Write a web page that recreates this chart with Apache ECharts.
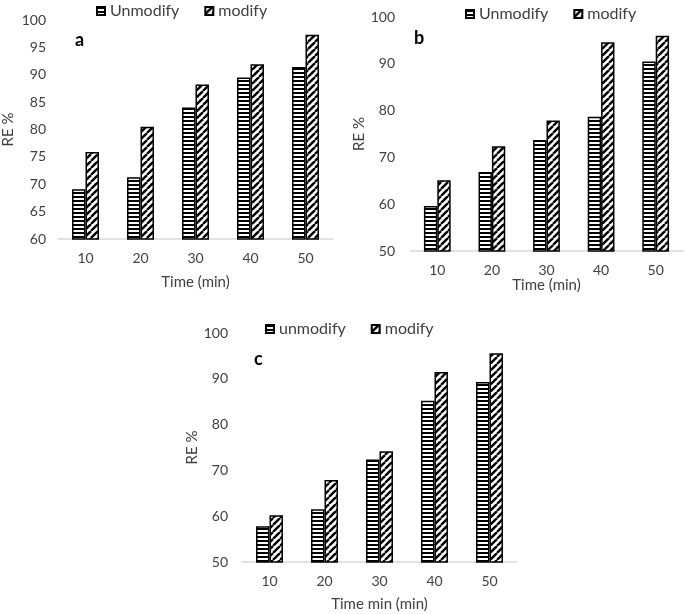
<!DOCTYPE html>
<html>
<head>
<meta charset="utf-8">
<script src="https://cdn.jsdelivr.net/npm/echarts@6/dist/echarts.min.js"></script>
<style>
  html, body { margin: 0; padding: 0; background: #fff; }
  #chart { width: 685px; height: 614px; }
</style>
</head>
<body>
<div id="chart"></div>
<script>
  // values
  var timeLabels = ['10', '20', '30', '40', '50'];
  var aUnmodify = [69.1, 71.3, 84.0, 89.5, 91.4];
  var aModify = [75.9, 80.5, 88.2, 91.9, 97.3];
  var bUnmodify = [59.6, 66.9, 73.7, 78.7, 90.5];
  var bModify = [65.1, 72.4, 77.9, 94.6, 96.0];
  var cUnmodify = [57.8, 61.5, 72.4, 85.2, 89.3];
  var cModify = [60.2, 67.9, 74.2, 91.5, 95.6];

  var FONT = 'Lato';
  var TXT = '#404040';

  // horizontal stripes
  function stripePattern() {
    var cv = document.createElement('canvas');
    cv.width = 4; cv.height = 4;
    var ctx = cv.getContext('2d');
    ctx.fillStyle = '#fff';
    ctx.fillRect(0, 0, 4, 4);
    ctx.fillStyle = '#000';
    ctx.fillRect(0, 0, 4, 2);
    return { image: cv, repeat: 'repeat' };
  }
  // "/" hatching
  function hatchPattern() {
    var s = 7;
    var cv = document.createElement('canvas');
    cv.width = s; cv.height = s;
    var ctx = cv.getContext('2d');
    ctx.fillStyle = '#fff';
    ctx.fillRect(0, 0, s, s);
    ctx.strokeStyle = '#000';
    ctx.lineWidth = 2.4;
    [-s, 0, s].forEach(function (o) {
      ctx.beginPath();
      ctx.moveTo(o, s);
      ctx.lineTo(o + s, 0);
      ctx.stroke();
    });
    return { image: cv, repeat: 'repeat' };
  }
  var stripes = stripePattern();
  var hatch = hatchPattern();

  function makeGrid(left, top, width, height) {
    return { left: left, top: top, width: width, height: height, containLabel: false };
  }
  function makeX(idx, name, nameGap) {
    return {
      type: 'category', gridIndex: idx, data: timeLabels,
      name: name, nameLocation: 'middle', nameGap: nameGap,
      nameTextStyle: { fontFamily: FONT, fontSize: 15, color: TXT },
      axisLine: { lineStyle: { color: '#d9d9d9', width: 1.5 } },
      axisTick: { show: false },
      axisLabel: { fontFamily: FONT, fontSize: 14, color: TXT, margin: 12 }
    };
  }
  function makeY(idx, min, interval, nameGap, margin) {
    return {
      type: 'value', gridIndex: idx, min: min, max: 100, interval: interval,
      name: 'RE %', nameLocation: 'middle', nameGap: nameGap, nameRotate: 90,
      nameTextStyle: { fontFamily: FONT, fontSize: 15, color: TXT },
      axisLine: { show: false }, axisTick: { show: false },
      splitLine: { show: false },
      axisLabel: { fontFamily: FONT, fontSize: 14, color: TXT, margin: margin }
    };
  }
  function makeBar(name, idx, data, fill) {
    return {
      name: name, type: 'bar', xAxisIndex: idx, yAxisIndex: idx, data: data,
      barGap: '0%', barCategoryGap: '51%',
      itemStyle: { color: fill, borderColor: '#000', borderWidth: 1.5 },
      animation: false
    };
  }
  function makeLegend(left, top, names) {
    return {
      left: left, top: top, data: names, icon: 'rect',
      itemWidth: 8, itemHeight: 8, itemGap: 25, padding: 0,
      textStyle: { fontFamily: FONT, fontSize: 16, color: TXT }, selectedMode: false
    };
  }
  function panelTag(text, left, top) {
    return { text: text, left: left, top: top, textStyle: { fontFamily: FONT, fontSize: 18, fontWeight: 'bold', color: '#000' } };
  }

  var chart = echarts.init(document.getElementById('chart'));
  chart.setOption({
    backgroundColor: '#fff',
    animation: false,
    title: [panelTag('a', 70, 26), panelTag('b', 409, 24), panelTag('c', 249, 345)],
    legend: [
      makeLegend(96, 3, ['Unmodify', 'modify']),
      makeLegend(465, 6, ['Unmodify', 'modify']),
      makeLegend(265, 321, ['unmodify', 'modify'])
    ],
    grid: [
      makeGrid(58, 20, 275, 219),
      makeGrid(410, 17, 273, 234),
      makeGrid(242, 333, 275, 229)
    ],
    xAxis: [makeX(0, 'Time (min)', 36), makeX(1, 'Time (min)', 22), makeX(2, 'Time min (min)', 35)],
    yAxis: [makeY(0, 60, 5, 42, 12), makeY(1, 50, 10, 40, 15), makeY(2, 50, 10, 34, 14)],
    series: [
      makeBar('Unmodify', 0, aUnmodify, stripes),
      makeBar('modify', 0, aModify, hatch),
      makeBar('Unmodify', 1, bUnmodify, stripes),
      makeBar('modify', 1, bModify, hatch),
      makeBar('unmodify', 2, cUnmodify, stripes),
      makeBar('modify', 2, cModify, hatch)
    ]
  });
</script>
</body>
</html>
